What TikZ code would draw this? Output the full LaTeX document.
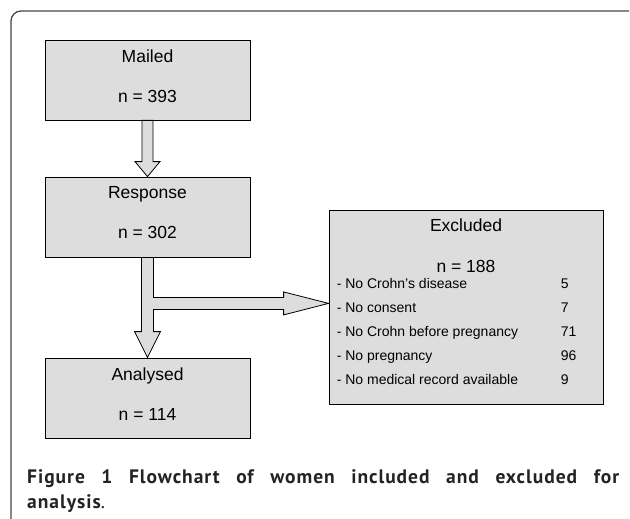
\documentclass[tikz,border=0pt]{standalone}
\usepackage{fontspec}
\setmainfont{Liberation Sans}
\newfontfamily\captionfont[LetterSpace=5]{PT Sans}
\usetikzlibrary{calc}

\definecolor{boxgray}{RGB}{221,221,221}
\definecolor{framegray}{RGB}{70,70,70}
\definecolor{captiongray}{RGB}{35,35,35}

\begin{document}
\begin{tikzpicture}[x=1pt, y=-1pt,
box_style/.style={rectangle, draw=black, fill=boxgray, line width=0.8pt, minimum width=205pt, minimum height=80pt, inner sep=0pt, align=center, font=\fontsize{17.5}{40}\selectfont, execute at end node={\rule[-8.5pt]{0pt}{8.5pt}}},
excl_style/.style={rectangle, draw=black, fill=boxgray, line width=0.8pt, minimum width=274pt, minimum height=194pt, inner sep=0pt},
arrow_style/.style={draw=black, fill=boxgray, line width=0.8pt, line join=miter},
frame_style/.style={draw=framegray, line width=1.3pt, rounded corners=10pt},
title_style/.style={anchor=base, inner sep=0pt, font=\fontsize{17.5}{20}\selectfont},
item_style/.style={anchor=base west, inner sep=0pt, font=\fontsize{14}{16}\selectfont},
]
\useasboundingbox (0,0) rectangle (630,519);

% outer frame, open to the right and below
\draw[frame_style] (11,540) -- (11,11) -- (629,11);

% boxes
\node[box_style] (mailed) at (147.5,80) {Mailed\\n = 393};
\node[box_style] (response) at (147.5,217) {Response\\n = 302};
\node[box_style] (analysed) at (147.5,398) {Analysed\\n = 114};
\node[excl_style] (excluded) at (466,307.5) {};

\node[title_style] (exc_title) at ($(excluded.north)+(0,21)$) {Excluded};
\node[title_style] (exc_n) at ($(excluded.north)+(0,62)$) {n = 188};

\foreach \txt/\num [count=\i] in {- No Crohn's disease/5, - No consent/7, - No Crohn before pregnancy/71, - No pregnancy/96, - No medical record available/9}{
	\node[item_style] (item\i) at ($(excluded.north west)+(8,54+24*\i)$) {\txt};
	\node[item_style] (num\i) at ($(excluded.north west)+(232,54+24*\i)$) {\num};
	}

% block arrows
\draw[arrow_style] ($(mailed.south)+(-5.5,0)$) -- ($(response.north)+(-5.5,-15)$) -- ($(response.north)+(-12.5,-15)$) -- (response.north) -- ($(response.north)+(12.5,-15)$) -- ($(response.north)+(5.5,-15)$) -- ($(mailed.south)+(5.5,0)$) -- cycle;

\coordinate (fork) at ($(response.south)+(0,46)$);
\coordinate (tip) at (excluded.west |- fork);
\draw[arrow_style] ($(response.south)+(-6,0)$) -- ($(analysed.north)+(-6,-26)$) -- ($(analysed.north)+(-13,-26)$) -- (analysed.north) -- ($(analysed.north)+(13,-26)$) -- ($(analysed.north)+(6,-26)$) -- ($(fork)+(6,6)$) -- ($(tip)+(-45,6)$) -- ($(tip)+(-45,11.5)$) -- (tip) -- ($(tip)+(-45,-11.5)$) -- ($(tip)+(-45,-6)$) -- ($(fork)+(6,-6)$) -- ($(response.south)+(6,0)$) -- cycle;

% caption
\node[anchor=north west, inner sep=0pt, text width=592pt, align=justify, text=captiongray, font=\captionfont\fontsize{19.5}{25}\selectfont] (caption) at (27,469) {\bfseries Figure 1 Flowchart of women included and excluded for\linebreak analysis\mdseries.};

\end{tikzpicture}
\end{document}
